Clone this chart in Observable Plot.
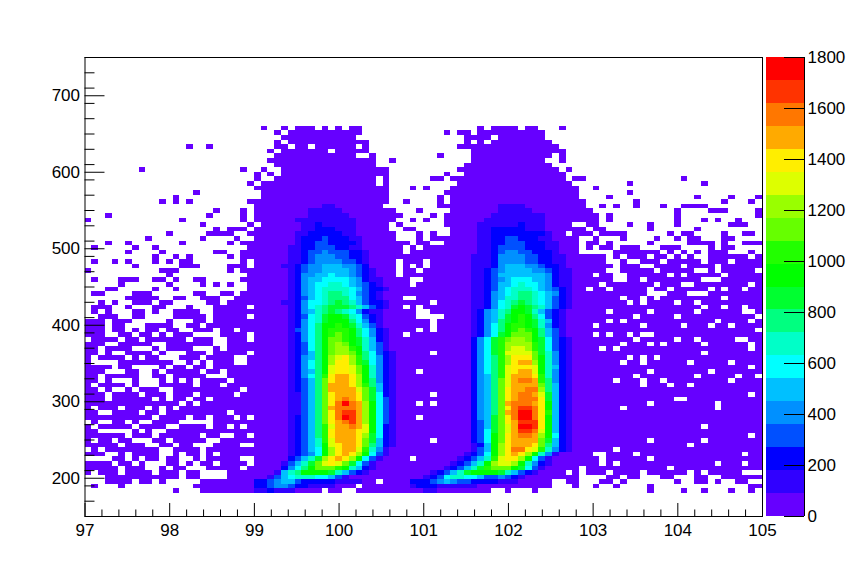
<!DOCTYPE html>
<html>
<head>
<meta charset="utf-8">
<script src="https://cdn.jsdelivr.net/npm/d3@7"></script>
<script src="https://cdn.jsdelivr.net/npm/@observablehq/plot@0.6"></script>
<style>
html,body{margin:0;padding:0;background:#fff}
#chart{position:relative;width:847px;height:574px}
#chart svg{position:absolute;left:0;top:0;background:transparent}
</style>
</head>
<body>
<div id="chart"></div>
<script>
// ---- axis description ----
const xDomain = [97, 105];
const yDomain = [150, 750];
const xMajor = [97, 98, 99, 100, 101, 102, 103, 104, 105];
const yMajor = [200, 300, 400, 500, 600, 700];
const zTicks = [0, 200, 400, 600, 800, 1000, 1200, 1400, 1600, 1800];
const binWidthX = 0.08;
const binWidthY = 6;
const levelWidth = 90;
const firstRow = 15;

// palette, lowest level first
const levelColors = ["#6600ff","#3000ff","#0000ff","#0050ff","#0090ff","#00c0ff","#00ffff","#00ffc8","#00ff80","#00ff30",
  "#00ff00","#22ff00","#66ff00","#99ff00","#ddff00","#ffee00","#ffaa00","#ff7700","#ff3300","#ff0000"];

// histogram rows, top to bottom; one character per bin, "." = empty, 0-9a-j = colour level
const rows = [
"......................... .0..0.000.0.0.00......... ........0.0000.00...0.... .........................",
"......................... ...0.00000000000......... ...0.00.0000000000....... .........................",
"......................... ....00000000000.......... ......0000.0000000....... .........................",
"......................... ...0.000000000000........ ......0.0.000000000...... .........................",
"...............0..0...... ...00.00.000000.0........ .....000000000000000..... .........................",
"......................... ..0.0000000.00000........ .......00000000000000.... .........................",
"......................... ...000000000000..0....... ..0....000000000000.0.... .........................",
"......................... ..0000000000000000..0.... .......00000000000..0.... .........................",
"......................... ...000000000000000....... ......0000000000000...... .........................",
"........0..............0. .0..0000000000000000..... .....000000000000000.0... .........................",
"......................... 0.0.0000000000000000..... ...0..000000000000000.... .........................",
"......................... 0..000000000000000.0..... .00.00000000000000000.00. .............0...........",
"........................0 .00000000000000000.0..... .....00000000000000000... .....0..........0........",
"......................... 00000000000000000000...0. 0...0000000000000000000.. 0........................",
"................0........ .0000000000000000000..... ...00000000000000000000.. .....0...................",
".............0........... .0000000000000000000..... ..0.0000000000000000000.. ..0............0....0...0",
"...........0.0.0........0 00000000000000000000..0.. ..0.00000000000000000000. ......0............0...0.",
"......................... 0000000000110000000...... ..0000000001111000000000. .0.0..0...0..0000........",
"...................0...0. 000000001111100000000...0 ....000000011111000000000 ............0....000....0",
"...0..............0....0. 0000000011111100000000... .0.0000000111111110000000 0.0.........0...........0",
"0.............0........0. 000000111111111000000..0. 0..0000001111111110000000 0.0.........0...0.0..0...",
".................0......0 .0000001121111100000.0... ...0000011111121110000..0 0....0..0...0.......000..",
"...................0.000. 00000001122211100000..00. ....00001122222111000000. 00......0......0.........",
"............0.....0000..0 000000112222211000000...0 .0..00001122222222100.000 .0000......0.00....0..00.",
".........0.......0....0.. 000000122232221100000...0 .0000000112233222110000.. 0...0....0..0.00...00....",
"...0..0.......0......0.00 00000012233222210000000.0 0..00000112233322211000.0 0.0.....0.....0000.0..000",
".0.....0..0.............0 0000011223332211000000.0. 00000000112333322211000.0 .00.000...000....0.00....",
"......0....0.......00..00 0000011233433322100000.00 00000000112344332221000.. ...0000000.0.0.0.000...0.",
"..........0..0.0.....0.00 0000011234443322100000000 0000000111244443322110000 00.0.000.00.0.0..000000.0",
".0..0.0...0.0.00.......0. 000001123444433210000.000 .000000111244443322110000 00..0..000.00000.000.0000",
".......0......000....000. 000011234455544320000.0.0 .000000111245554432210000 000.000..0000.0000.000000",
"0..........000.......0.00 000001234455554321000.00. 0000000112345555443211000 00..00000.00000..0.00000.",
"............0...........0 000001244556554321000.000 0000000112355555554211000 .00..000000.0.00000.00000",
".0...000..00.0..00.....00 00000124556666542110000.. 0000000112345666554211000 000..00.00000000...000000",
".....0......0....0.0.0..0 00000124566776543210000.0 0000000112355676654211000 0.0000000.000..00000000.0",
"...00.....0..0..........0 0000012456777765322100000 000000011235677765432100. 00.00000.00.00000.0.00.00",
".00....000......00..00.00 0000012456788764321000000 0000000112456788765421000 00000000...000...00000000",
"......00000..00..000..000 0000012356788865321000..0 0000000112457788765321000 0000.00.0.000000000.00000",
"..0.0..000.00.....00.0000 0000112466789875322100000 0.00000112467898765321000 00000.0.0000.00.000000000",
".000..0...00...0...00000. 0000012467899987532100.0. 00000001124679a9875321000 0000000000000000.00.00.00",
".0.0...00.0..0000..000000 000001245789876421100000. .000000124578aa9753210000 00.00000.000000.000000..0",
"..000..00....00000.00000. 00000123679aa97632100000. ...0000124579aba863210000 000000.00000.00000000000.",
"000.000.....0...00.000000 00000124679aaa86421000000 0.00000124589aba975210000 00.0.0000000000000.0000.0",
"000.00...0000..00.0000000 0000012468aaba97531000000 0.0000012468abba974210000 .000000.00000.000.00.0000",
"000.00.0.00.00..000.00.00 0000013468abbba864210000. 0.0000012468abcba85310000 000000000000000000000000.",
"000..00.00.0.000....0000. 0000012468abcba8642100.00 000000012469accca85310000 .0.00.0..0000000000000000",
".0000.00.000000.000..000. 0000012468accba9752100000 00000002469bcddca96321000 000000.00000.00.00000..00",
"000..00000..0000000..0000 0000012368acdca9753100000 00000002469bddddb96321000 0000.000.0.00000.000000.0",
"00.0000...0.0000...0.0000 0000012368acddba753100000 00000002469bdeedb96321000 0.0.0000000000000000000.0",
"00.0..0000.0...000.00000. 0000012358acddca863210000 0.000002469beeeec97421000 0000000000000000.00000000",
"0.0000.0.00...000.0000..0 0000012458adefdb864210000 00000002468bdfffca7421000 00000.0.0.000000000000000",
"0....00000000..0.0.000..0 0000012468adffdb964210000 00000002468bdfggda7421000 0000.00.000000.00000.0000",
"0000.00....0.00.00.000000 0000012468aeffeca74210000 00000002468befffea7521000 00000000000000000000000.0",
"000...00..0.00000.00.0000 0000012458aeffeca7421000. 00000002468befggea7421000 00000000.00000000.0000000",
"00.00000..00.00000...0000 0000012468bfggfda74210000 00000002458begggfb7421000 000000.00000000.00000.00.",
"00.0...0...0.0.0.0000.000 0000012358cfggfda84210000 00000002458ceghhgb8421000 000.000.00.000000000.0000",
"0.0000.0...00000.000.0000 0000012358cgggfdb85210000 00000002458ceggggc8521000 0000000.000.00.0000000000",
"00.0..0.000..0000000000.0 0000012358cggggec95210000 00000002458cfgghhd8521000 0000000000000000000000000",
"000.0000.000.000.00000.00 0000011358cfgggfc96210000 0.000002458cfghhge9521000 00000000000000000000000.0",
"000.000000.0.00.00.000000 0000011358cfghgfc96310000 00000002458cfghhhf9521000 000000000000..00000000000",
"00000000000000.0.00000000 0000011358cfhjhgda631000. 0.000002458cghhhgfa521000 00000000.000000000.000000",
"0.000.000.0.0.00000000000 0000011358cghhhgda6310000 00000002458cfhiihfa521000 0000.0000000000000.000000",
"00..0000.00.000000000.000 0000011358cfhiigda6310000 00000002458cghjjhfb521000 0000000000000000000000000",
"0000000000.0000.00.000.0. 0000012358cfhjigda631000. 00000002459cfhjjhfa521000 0000000000000000000000000",
".0..00.0..0000.....000000 0000012358cfghigda6310000 00000002359cfgiiifa521000 0000000000000000000000000",
"0.00000.0000..0000.00.0.0 0000012358begghgea6210000 00000002359cegjjifa521000 0000000000000000.00000000",
"00.....0.0..0000000000000 0000012358bfgggfea6210000 00000002369cegiihea521000 0000000000000000000000000",
"000000.000.000000.00..00. 0000012358bfgggfd96210000 0000000236acfghhgda621000 00000000000000000000000.0",
"0.00.00...00.00000..00000 0000012357begggfc95210000 0.00000236acfggggc9521000 00000000.0000000.00000000",
"00000.000..00.00...0000.. 0000012357aefggfc85210000 0000000125adfgggfc8521000 00000000000000.0000000000",
".0.00000000..0000.0000000 0000012356adfggeb74100000 0000000135adfhhfeb7421000 000.000000000000000000000",
"000..0.0000..0.00.0.00000 0000012346adfgfda63100000 0000001236adfgfda74100000 ..0000.000000000000000.00",
"....00.0.00.00..0.00000.. 0000023579dfgfda6310000.0 0000012357beffda631000000 0.000000.0000000000000000",
"0000.00.0...00.0.00.0000. 000013579cefec96310000000 000012357adeeda7421000000 0.0.00000000000000.000.00",
"00000.000..0.00...00000.0 00002468acccba75210000000 000123579bccca963100000.0 00000000000.0000000000000",
"0.000.0000.000.00....0000 0001578aaaa97532100000000 0123579aaaa9753210000.0.0 00.0000.000000.0.00000...",
"...00000000000.00....0000 0013567776653100000000000 12367766533432100000000.. ..00.00...00...00..000000",
"...0000.00.0.....00000000 223455322222111100.000022 2345433222211100000..00.. .00.0.......0..00.0..00..",
".0...0..........000000000 223443221111000.000000012 2211111100000000000...0.. 0..0....0..............00",
".............0...00000000 1121110000.00..0000000000 1100000000..0...0........ ........0....0..0...0..0."
];

// ---- build the bins ----
const cells = [];
rows.forEach((row, i) => {
  const str = row.split(" ").join("");
  for (let c = 0; c < str.length; c++) {
    if (str[c] === ".") continue;
    const level = parseInt(str[c], 36);
    const r = i + firstRow;
    cells.push({
      x1: xDomain[0] + c * binWidthX,
      x2: xDomain[0] + (c + 1) * binWidthX,
      y1: yDomain[1] - (r + 1) * binWidthY,
      y2: yDomain[1] - r * binWidthY,
      count: (level + 0.5) * levelWidth
    });
  }
});

const thresholds = levelColors.slice(1).map((_, i) => (i + 1) * levelWidth);
const colorScale = {type: "threshold", domain: thresholds, range: levelColors};
const bands = levelColors.map((_, i) => ({lo: i * levelWidth, hi: (i + 1) * levelWidth, mid: (i + 0.5) * levelWidth}));

const xMinor = d3.range(0, 41).map(i => xDomain[0] + i * 0.2).filter(v => !xMajor.some(m => Math.abs(m - v) < 1e-6));
const yMinor = d3.range(0, 31).map(i => yDomain[0] + i * 20).filter(v => !yMajor.includes(v));

const font = "'Liberation Sans', Arial, Helvetica, sans-serif";

const main = Plot.plot({
  width: 847, height: 574,
  marginLeft: 84.5, marginRight: 85, marginTop: 57, marginBottom: 58,
  style: {fontFamily: font, fontSize: "17px", color: "#000", background: "transparent"},
  x: {domain: xDomain, label: null},
  y: {domain: yDomain, label: null},
  color: colorScale,
  marks: [
    Plot.rect(cells, {x1: "x1", x2: "x2", y1: "y1", y2: "y2", fill: "count", shapeRendering: "crispEdges"}),
    Plot.ruleX(xMajor, {y1: yDomain[0], y2: yDomain[0] + 17, stroke: "#000"}),
    Plot.ruleX(xMinor, {y1: yDomain[0], y2: yDomain[0] + 8.5, stroke: "#000"}),
    Plot.ruleY(yMajor, {x1: xDomain[0], x2: xDomain[0] + 0.236, stroke: "#000"}),
    Plot.ruleY(yMinor, {x1: xDomain[0], x2: xDomain[0] + 0.118, stroke: "#000"}),
    Plot.axisX({ticks: xMajor, tickSize: 0, tickPadding: 7, tickFormat: d3.format("d"), fontSize: 17, label: null}),
    Plot.axisY({ticks: yMajor, tickSize: 0, tickPadding: 5, tickFormat: d3.format("d"), fontSize: 17, label: null}),
    Plot.frame({stroke: "#000"})
  ]
});

const bar = Plot.plot({
  width: 847, height: 574,
  marginLeft: 766, marginRight: 43, marginTop: 57, marginBottom: 58,
  style: {fontFamily: font, fontSize: "17px", color: "#000", background: "transparent"},
  x: {domain: [0, 1], axis: null},
  y: {domain: [0, 1800], label: null},
  color: colorScale,
  marks: [
    Plot.rect(bands, {x1: 0, x2: 1, y1: "lo", y2: "hi", fill: "mid", shapeRendering: "crispEdges"}),
    Plot.ruleY(zTicks, {x1: 0.474, x2: 1, stroke: "#000"}),
    Plot.ruleX([1], {stroke: "#000"}),
    Plot.axisY({anchor: "right", ticks: zTicks, tickSize: 0, tickPadding: 3, tickFormat: d3.format("d"), fontSize: 17, label: null, textAnchor: "start"})
  ]
});

const host = document.getElementById("chart");
host.appendChild(main);
host.appendChild(bar);
</script>
</body>
</html>
